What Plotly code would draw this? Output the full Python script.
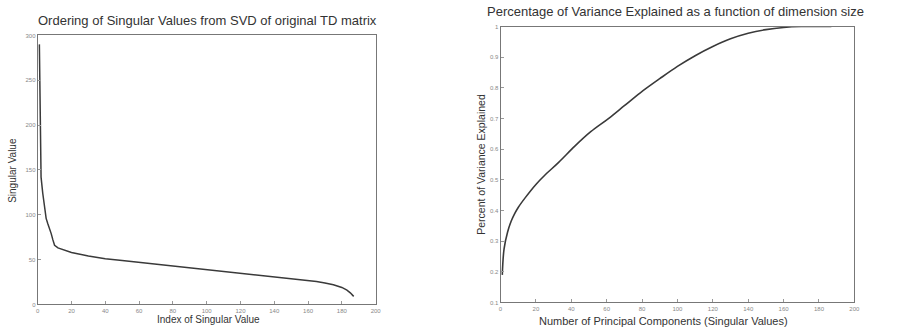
import plotly.graph_objects as go

W, H = 899, 332

# Left chart: singular values
sv_index = [1, 2, 3, 4, 5, 6, 7, 8, 9, 10, 12, 15, 20, 30, 40, 50, 60, 70, 80, 90,
            100, 110, 120, 130, 140, 150, 160, 165, 170, 175, 180, 183, 185, 187]
sv_value = [290, 142, 124, 106, 96, 90, 85, 79, 72, 66, 63, 61, 58, 54, 51, 49, 47, 45, 43, 41,
            39, 37, 35, 33, 31, 29, 27, 25.5, 24, 22, 19, 16, 13, 9]

# Right chart: cumulative variance explained
pc_count = [1, 2, 4, 6, 8, 10, 14, 20, 25, 33, 42, 51, 61, 70, 79, 90, 100, 110, 120,
            130, 140, 150, 160, 170, 180, 187]
var_expl = [0.19, 0.275, 0.33, 0.365, 0.39, 0.41, 0.442, 0.485, 0.515, 0.558, 0.61, 0.657, 0.70,
            0.742, 0.784, 0.83, 0.87, 0.905, 0.935, 0.96, 0.978, 0.99, 0.997, 1.0, 1.0, 1.0]

left_xticks = list(range(0, 201, 20))
left_yticks = list(range(0, 301, 50))
right_xticks = list(range(0, 201, 20))
right_yticks = [0.1, 0.2, 0.3, 0.4, 0.5, 0.6, 0.7, 0.8, 0.9, 1]

def px(x):
    return x / W

def py(y):
    return 1 - y / H

fig = go.Figure()
fig.add_trace(go.Scatter(x=sv_index, y=sv_value, mode="lines",
                         line=dict(color="#3a3a3a", width=1.5), xaxis="x", yaxis="y"))
fig.add_trace(go.Scatter(x=pc_count, y=var_expl, mode="lines", line_shape="spline",
                         line=dict(color="#3a3a3a", width=1.6), xaxis="x2", yaxis="y2"))

axis_common = dict(showline=True, mirror=True, linecolor="#777", linewidth=1,
                   ticks="inside", ticklen=3, tickcolor="#999", showgrid=False,
                   zeroline=False, tickfont=dict(size=6, color="#888", family="Arial"))

fig.update_layout(
    width=W, height=H, margin=dict(l=0, r=0, t=0, b=0),
    paper_bgcolor="white", plot_bgcolor="white", showlegend=False,
    xaxis=dict(domain=[px(36), px(377)], range=[0, 200], tickvals=left_xticks,
               anchor="y", **axis_common),
    yaxis=dict(domain=[py(307), py(33)], range=[0, 300], tickvals=left_yticks,
               anchor="x", **axis_common),
    xaxis2=dict(domain=[px(503), px(860)], range=[0, 200], tickvals=right_xticks,
                anchor="y2", **axis_common),
    yaxis2=dict(domain=[py(305), py(24)], range=[0.1, 1], tickvals=right_yticks,
                anchor="x2", **axis_common),
)

font = "Arial, Liberation Sans, sans-serif"
ann = [
    dict(text="Ordering of Singular Values from SVD of original TD matrix",
         x=px(207), y=py(18), size=13),
    dict(text="Percentage of Variance Explained as a function of dimension size",
         x=px(680), y=py(9), size=13),
    dict(text="Index of Singular Value", x=px(208), y=py(322), size=10),
    dict(text="Number of Principal Components (Singular Values)", x=px(667), y=py(324), size=11),
]
for a in ann:
    fig.add_annotation(text=a["text"], x=a["x"], y=a["y"], xref="paper", yref="paper",
                       showarrow=False, xanchor="center", yanchor="middle",
                       font=dict(size=a["size"], color="#333", family=font))
fig.add_annotation(text="Singular Value", x=px(11), y=py(170), xref="paper", yref="paper",
                   showarrow=False, textangle=-90, xanchor="center", yanchor="middle",
                   font=dict(size=10, color="#333", family=font))
fig.add_annotation(text="Percent of Variance Explained", x=px(483), y=py(164), xref="paper",
                   yref="paper", showarrow=False, textangle=-90, xanchor="center",
                   yanchor="middle", font=dict(size=10.5, color="#333", family=font))

fig.write_html("out.html")
